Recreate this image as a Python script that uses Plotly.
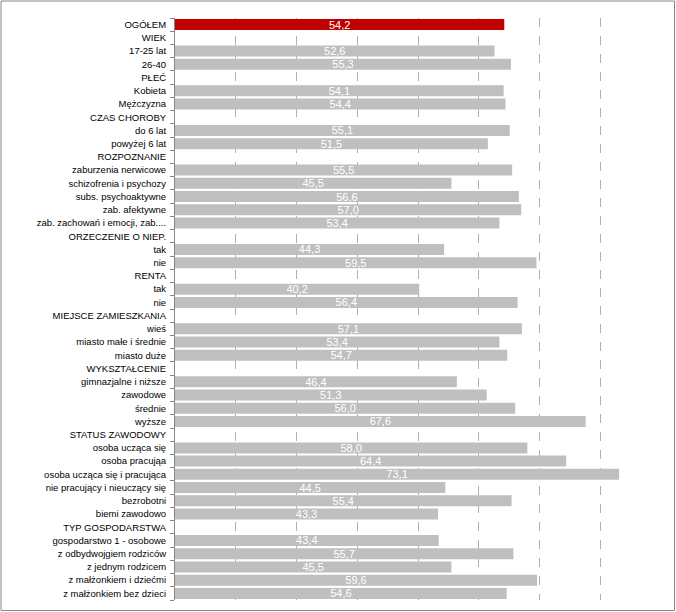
import plotly.graph_objects as go

labels = [
    "OGÓŁEM", "WIEK", "17-25 lat", "26-40", "PŁEĆ", "Kobieta", "Mężczyzna",
    "CZAS CHOROBY", "do 6 lat", "powyżej 6 lat", "ROZPOZNANIE",
    "zaburzenia nerwicowe", "schizofrenia i psychozy", "subs. psychoaktywne",
    "zab. afektywne", "zab. zachowań i emocji, zab....", "ORZECZENIE O NIEP.",
    "tak", "nie", "RENTA", "tak", "nie", "MIEJSCE ZAMIESZKANIA", "wieś",
    "miasto małe i średnie", "miasto duże", "WYKSZTAŁCENIE",
    "gimnazjalne i niższe", "zawodowe", "średnie", "wyższe", "STATUS ZAWODOWY",
    "osoba ucząca się", "osoba pracująa", "osoba ucząca się i pracująca",
    "nie pracujący i nieuczący się", "bezrobotni", "biemi zawodowo",
    "TYP GOSPODARSTWA", "gospodarstwo 1 - osobowe", "z odbydwojgiem rodziców",
    "z jednym rodzicem", "z małżonkiem i dziećmi", "z małżonkiem bez dzieci",
]

values = [
    54.2, None, 52.6, 55.3, None, 54.1, 54.4,
    None, 55.1, 51.5, None,
    55.5, 45.5, 56.6,
    57.0, 53.4, None,
    44.3, 59.5, None, 40.2, 56.4, None, 57.1,
    53.4, 54.7, None,
    46.4, 51.3, 56.0, 67.6, None,
    58.0, 64.4, 73.1,
    44.5, 55.4, 43.3,
    None, 43.4, 55.7,
    45.5, 59.6, 54.6,
]

highlight = "OGÓŁEM"

positions = list(range(len(labels)))
colors = ["#c00000" if lab == highlight else "#bfbfbf" for lab in labels]
texts = ["" if v is None else f"{v:.1f}".replace(".", ",") for v in values]

fig = go.Figure(go.Bar(
    x=values, y=positions, orientation="h",
    marker=dict(color=colors, line=dict(width=0)),
    text=texts, textposition="inside", insidetextanchor="middle",
    constraintext="none",
    textfont=dict(color="white", size=11, family="Liberation Sans"),
    cliponaxis=False, hoverinfo="skip",
))

W, H = 676, 612
ml, mr, mt, mb = 175, 15, 18, 12
pw, ph = W - ml - mr, H - mt - mb

fig.update_layout(
    width=W, height=H,
    margin=dict(l=ml, r=mr, t=mt, b=mb, autoexpand=False),
    paper_bgcolor="white", plot_bgcolor="white",
    bargap=0.17, showlegend=False,
    font=dict(family="Liberation Sans", size=10, color="#000000"),
    shapes=[dict(
        type="rect", xref="paper", yref="paper",
        x0=-(ml - 1) / pw, x1=1 + (mr - 1.5) / pw,
        y0=-(mb - 1.5) / ph, y1=1 + (mt - 1) / ph,
        line=dict(color="#868686", width=1), fillcolor="rgba(0,0,0,0)",
        layer="below",
    )],
)

fig.update_xaxes(
    range=[0, 80], dtick=10, tick0=0, automargin=False,
    showgrid=True, gridcolor="#b0b0b0", griddash="dash", gridwidth=1,
    showticklabels=False, zeroline=False, showline=False, ticks="",
)

fig.update_yaxes(
    range=[len(labels) - 0.5, -0.5], automargin=False,
    tickmode="array", tickvals=positions, ticktext=labels,
    ticks="", showgrid=False, zeroline=False, ticklabelstandoff=6,
    showline=True, linecolor="#868686", linewidth=1,
    tickfont=dict(size=9.5, family="Liberation Sans", color="#000000"),
    minor=dict(tickmode="array", tickvals=[p - 0.5 for p in positions] + [len(labels) - 0.5],
               ticks="outside", ticklen=4, tickcolor="#868686", showgrid=False),
)

fig.write_html(
    "out.html",
    config={"displayModeBar": False},
    post_script="document.body.style.margin='0';document.body.style.overflow='hidden';",
)
